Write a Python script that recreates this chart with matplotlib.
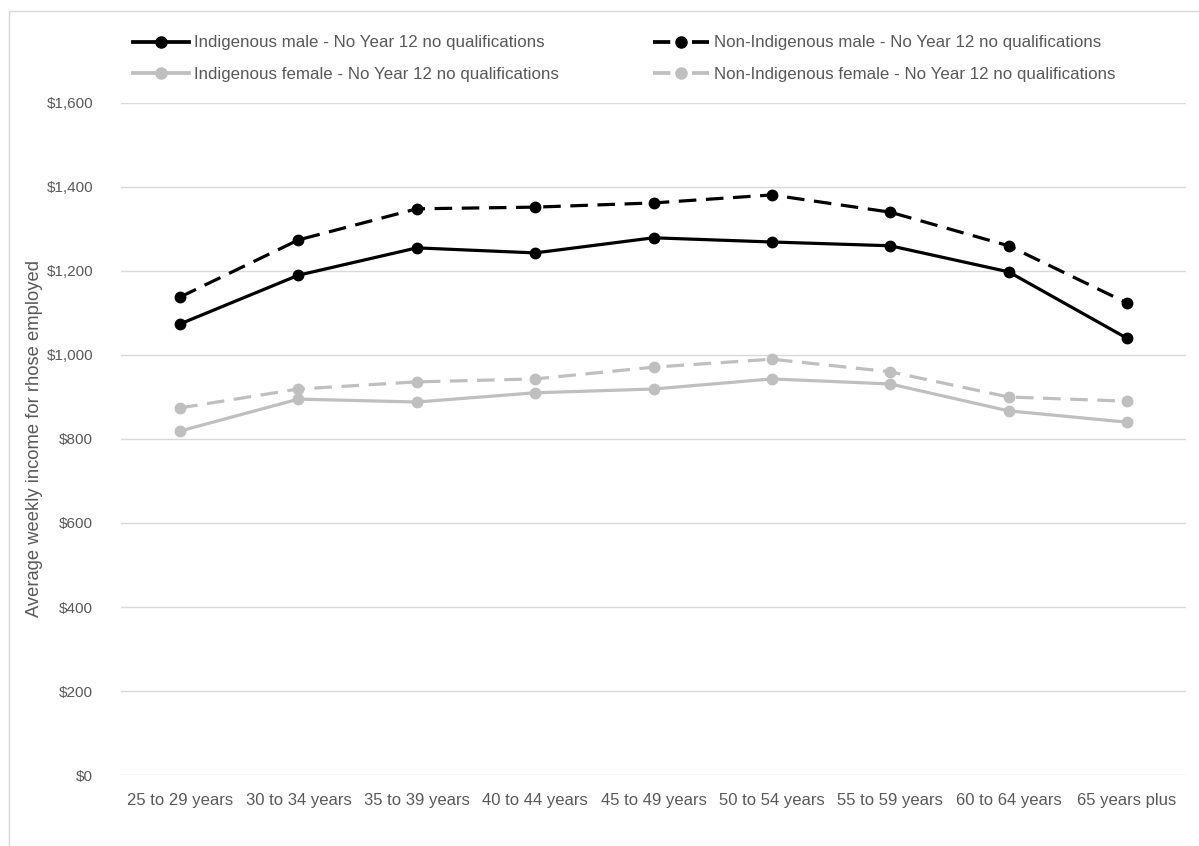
import matplotlib
matplotlib.use("Agg")
import matplotlib.pyplot as plt
from matplotlib.lines import Line2D

plt.rcParams['font.family'] = ['Liberation Sans', 'DejaVu Sans']

age_groups = ["25 to 29 years", "30 to 34 years", "35 to 39 years", "40 to 44 years",
              "45 to 49 years", "50 to 54 years", "55 to 59 years", "60 to 64 years",
              "65 years plus"]

indigenous_male = [1074, 1190, 1255, 1243, 1279, 1269, 1260, 1198, 1040]
non_indigenous_male = [1138, 1274, 1348, 1352, 1362, 1381, 1340, 1260, 1124]
indigenous_female = [819, 895, 888, 910, 919, 943, 931, 867, 840]
non_indigenous_female = [874, 919, 936, 943, 971, 990, 960, 900, 890]

series_labels = ["Indigenous male - No Year 12 no qualifications",
                 "Non-Indigenous male - No Year 12 no qualifications",
                 "Indigenous female - No Year 12 no qualifications",
                 "Non-Indigenous female - No Year 12 no qualifications"]

y_ticks = [0, 200, 400, 600, 800, 1000, 1200, 1400, 1600]
y_label = "Average weekly income for rhose employed"

BLACK = "#000000"
GREY = "#BFBFBF"
TEXT = "#595959"
GRID = "#D9D9D9"
DASH = (0, (5.5, 3))

fig = plt.figure(figsize=(11.99, 8.46), dpi=100)
ax = fig.add_axes([0.1009, 0.0839, 0.8883, 0.7944])

x = list(range(len(age_groups)))
styles = [
    (indigenous_male, BLACK, "-"),
    (non_indigenous_male, BLACK, DASH),
    (indigenous_female, GREY, "-"),
    (non_indigenous_female, GREY, DASH),
]
for (vals, col, ls), lab in zip(styles, series_labels):
    ax.plot(x, vals, color=col, linestyle=ls, linewidth=2.3, marker="o",
            markersize=7.5, label=lab, solid_capstyle="butt", dash_capstyle="butt",
            zorder=3)

ax.set_xlim(-0.5, len(age_groups) - 0.5)
ax.set_ylim(0, 1600)
ax.set_yticks(y_ticks)
ax.set_yticklabels([f"${v:,}" for v in y_ticks])
ax.set_xticks(x)
ax.set_xticklabels(age_groups)
ax.tick_params(axis="both", length=0, labelcolor=TEXT)
ax.tick_params(axis="y", pad=20, labelsize=11)
ax.tick_params(axis="x", pad=13, labelsize=12)
ax.grid(axis="y", color=GRID, linewidth=1.0)
ax.set_axisbelow(True)
for s in ax.spines.values():
    s.set_visible(False)
ax.set_ylabel(y_label, fontsize=13.2, color=TEXT)
ax.yaxis.set_label_coords(-0.073, 0.5)

# legend in two columns above the plot
LEG_DASH = (0, (4.6, 5.8))
handles = [
    Line2D([], [], color=BLACK, linestyle="-", linewidth=2.7, marker="o", markersize=8),
    Line2D([], [], color=BLACK, linestyle=LEG_DASH, linewidth=2.7, marker="o", markersize=8),
    Line2D([], [], color=GREY, linestyle="-", linewidth=2.7, marker="o", markersize=8),
    Line2D([], [], color=GREY, linestyle=LEG_DASH, linewidth=2.7, marker="o", markersize=8),
]
order = [0, 2, 1, 3]
leg = fig.legend([handles[i] for i in order], [series_labels[i] for i in order],
                 ncol=2, loc="upper left", bbox_to_anchor=(125 / 1199, 1 - 27 / 846),
                 frameon=False, fontsize=12.2, handlelength=3.3, handletextpad=0.3,
                 columnspacing=5.55, labelspacing=0.95, labelcolor=TEXT, borderpad=0)

# chart area border
fig.add_artist(Line2D([9 / 1199, 9 / 1199], [0, 1 - 11 / 846], transform=fig.transFigure,
                      color=GRID, linewidth=1))
fig.add_artist(Line2D([9 / 1199, 1], [1 - 11 / 846, 1 - 11 / 846], transform=fig.transFigure,
                      color=GRID, linewidth=1))

fig.savefig("out.png", dpi=100, facecolor="white")
